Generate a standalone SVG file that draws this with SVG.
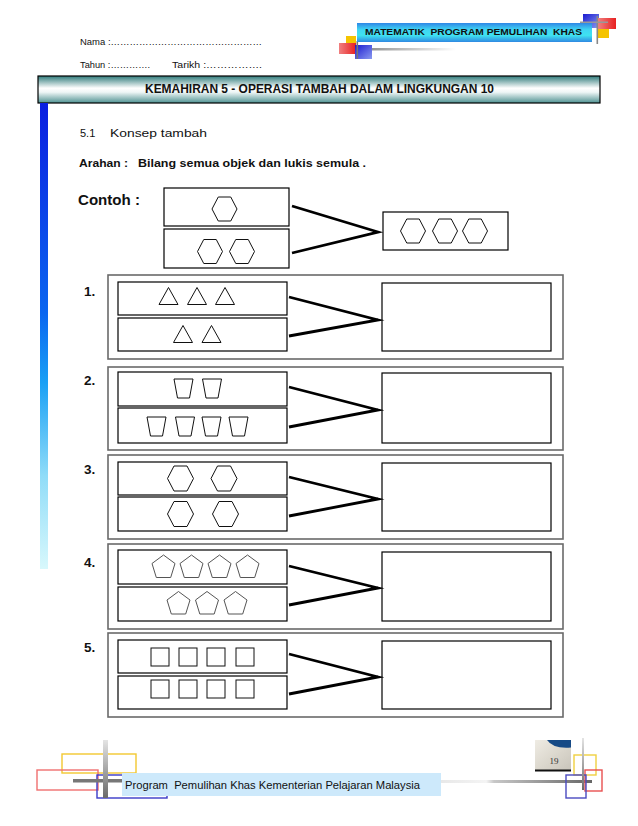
<svg xmlns="http://www.w3.org/2000/svg" xmlns:xlink="http://www.w3.org/1999/xlink" width="638" height="826" viewBox="0 0 638 826">
<style>
.t{font-family:"Liberation Sans",Arial,sans-serif;fill:#111}
.b{font-weight:bold}
.box{fill:#fff;stroke:#000;stroke-width:1.2}
.outer{fill:#fff;stroke:#6a6a6a;stroke-width:1.6}
.shape{fill:none;stroke:#111;stroke-width:1}
.pent{fill:none;stroke:#555;stroke-width:1}
.con{fill:none;stroke:#000;stroke-width:2.8;stroke-linejoin:miter;stroke-miterlimit:20}
.deco{fill:none;stroke-width:1.4}
</style>
<defs>
<linearGradient id="gBanner" x1="0" y1="0" x2="0" y2="1">
<stop offset="0" stop-color="#2f86e6"/><stop offset="0.35" stop-color="#3fd6f3"/><stop offset="0.65" stop-color="#3fe2f0"/><stop offset="1" stop-color="#2f88e2"/>
</linearGradient>
<linearGradient id="gTitle" x1="0" y1="0" x2="0" y2="1">
<stop offset="0" stop-color="#2f7b7b"/><stop offset="0.45" stop-color="#ffffff"/><stop offset="0.6" stop-color="#eef6f6"/><stop offset="1" stop-color="#4f9292"/>
</linearGradient>
<linearGradient id="gBar" x1="0" y1="0" x2="0" y2="1">
<stop offset="0" stop-color="#0a1ee0"/><stop offset="0.45" stop-color="#0a66f0"/><stop offset="0.6" stop-color="#1aa0f5"/><stop offset="0.8" stop-color="#90dcf8"/><stop offset="1" stop-color="#d8f8fc"/>
</linearGradient>
<linearGradient id="gVert" x1="0" y1="0" x2="0" y2="1">
<stop offset="0" stop-color="#e4e4e4"/><stop offset="1" stop-color="#6a6a6a"/>
</linearGradient>
<linearGradient id="gHorz" x1="0" y1="0" x2="1" y2="0">
<stop offset="0" stop-color="#777"/><stop offset="1" stop-color="#777" stop-opacity="0"/>
</linearGradient>
<linearGradient id="gHorzR" x1="0" y1="0" x2="1" y2="0">
<stop offset="0" stop-color="#e8e8e8"/><stop offset="0.3" stop-color="#f4f4f4"/><stop offset="0.35" stop-color="#c8c8c8"/><stop offset="1" stop-color="#666"/>
</linearGradient>
<linearGradient id="gBlueSq" x1="0" y1="0" x2="1" y2="1">
<stop offset="0" stop-color="#1a1ad0"/><stop offset="1" stop-color="#8a9af0"/>
</linearGradient>
<linearGradient id="gRedSq" x1="0" y1="0" x2="1" y2="0">
<stop offset="0" stop-color="#f08080"/><stop offset="1" stop-color="#e82020"/>
</linearGradient>
<linearGradient id="gPage" x1="0" y1="0" x2="1" y2="1">
<stop offset="0" stop-color="#efece4"/><stop offset="0.5" stop-color="#dcd8ce"/><stop offset="1" stop-color="#c8c4ba"/>
</linearGradient>
<polygon id="hex" points="-12.5,0 -6.25,-12 6.25,-12 12.5,0 6.25,12 -6.25,12"/>
<polygon id="hexL" points="-13,0 -6.5,-12.5 6.5,-12.5 13,0 6.5,12.5 -6.5,12.5"/>
<polygon id="tri" points="-9.5,8.5 0,-8.5 9.5,8.5"/>
<polygon id="trap" points="-9.5,-9.5 9.5,-9.5 6,9.5 -6,9.5"/>
<polygon id="pent" points="0,-11.5 11.5,-3 7.2,11 -7.2,11 -11.5,-3"/>
<rect id="sq" x="-9" y="-9" width="18" height="18"/>
</defs>

<rect x="0" y="0" width="638" height="826" fill="#fff"/>

<!-- header -->
<g id="header">
<text class="t" x="80" y="45" font-size="9" fill="#333" textLength="182" lengthAdjust="spacingAndGlyphs">Nama :…………………………………………</text>
<text class="t" x="80" y="68" font-size="9" fill="#333" textLength="70" lengthAdjust="spacingAndGlyphs">Tahun :………….</text>
<text class="t" x="172" y="68" font-size="9" fill="#333" textLength="90" lengthAdjust="spacingAndGlyphs">Tarikh :…………….</text>
</g>

<g id="banner-deco">
<rect x="348" y="48" width="108" height="2.5" fill="url(#gHorz)"/>
<rect x="346" y="36" width="10" height="8" fill="#f5c400"/>
<rect x="339" y="43" width="17" height="11" fill="url(#gRedSq)"/>
<rect x="355" y="45" width="17" height="14" fill="url(#gBlueSq)"/>
<rect x="356.5" y="41" width="1.6" height="18" fill="#777"/>
<rect x="583" y="14" width="16" height="14" fill="url(#gBlueSq)"/>
<rect x="598" y="18" width="18" height="11" fill="url(#gRedSq)"/>
<rect x="597" y="29" width="12" height="9" fill="#f5c400"/>
<rect x="596.5" y="16" width="1.6" height="28" fill="#888"/>
<rect x="580" y="21.5" width="28" height="1.5" fill="#999"/>
</g>

<g id="banner">
<rect x="357" y="23" width="235" height="19" fill="url(#gBanner)"/>
<text class="t b" x="365" y="34.5" font-size="9.2" fill="#1a2350" textLength="217" lengthAdjust="spacingAndGlyphs" style="white-space:pre">MATEMATIK  PROGRAM PEMULIHAN  KHAS</text>
</g>

<g id="title">
<rect x="38" y="76" width="562" height="27" fill="url(#gTitle)" stroke="#000" stroke-width="1.2"/>
<text class="t b" x="145" y="93" font-size="12.5" textLength="349" lengthAdjust="spacingAndGlyphs">KEMAHIRAN 5 - OPERASI TAMBAH DALAM LINGKUNGAN 10</text>
</g>

<rect id="side-bar" x="40" y="103" width="8" height="466" fill="url(#gBar)"/>

<g id="intro">
<text class="t" x="80" y="137" font-size="11" fill="#222">5.1</text>
<text class="t" x="110" y="137" font-size="11" fill="#222" textLength="97" lengthAdjust="spacingAndGlyphs">Konsep tambah</text>
<text class="t b" x="79" y="167" font-size="11" textLength="49" lengthAdjust="spacingAndGlyphs">Arahan :</text>
<text class="t b" x="138" y="167" font-size="11" textLength="228" lengthAdjust="spacingAndGlyphs">Bilang semua objek dan lukis semula .</text>
<text class="t b" x="78" y="205" font-size="15" textLength="62" lengthAdjust="spacingAndGlyphs">Contoh :</text>
</g>

<!-- example -->
<g id="contoh">
<rect class="box" x="164" y="188" width="125" height="38"/>
<rect class="box" x="164" y="229" width="125" height="39"/>
<rect class="box" x="383" y="212" width="125" height="38"/>
<use href="#hex" class="shape" x="224.5" y="209"/>
<use href="#hex" class="shape" x="210" y="251.5"/>
<use href="#hex" class="shape" x="242" y="251.5"/>
<use href="#hex" class="shape" x="413" y="231"/>
<use href="#hex" class="shape" x="445" y="231"/>
<use href="#hex" class="shape" x="475" y="231"/>
</g>

<g id="soalan-1">
<rect class="outer" x="108" y="275" width="455" height="84"/>
<text class="t b" x="84" y="296" font-size="13.5">1.</text>
<rect class="box" x="118" y="282" width="169" height="33"/>
<rect class="box" x="118" y="318" width="169" height="33"/>
<rect class="box" x="382" y="283" width="169" height="68"/>
<use href="#tri" class="shape" x="168.5" y="296"/>
<use href="#tri" class="shape" x="197" y="296"/>
<use href="#tri" class="shape" x="225" y="296"/>
<use href="#tri" class="shape" x="183" y="334"/>
<use href="#tri" class="shape" x="211.5" y="334"/>
</g>

<g id="soalan-2">
<rect class="outer" x="108" y="367" width="455" height="83"/>
<text class="t b" x="84" y="385" font-size="13.5">2.</text>
<rect class="box" x="118" y="372" width="169" height="34"/>
<rect class="box" x="118" y="408" width="169" height="35"/>
<rect class="box" x="382" y="373" width="169" height="70"/>
<use href="#trap" class="shape" x="183.5" y="388.5"/>
<use href="#trap" class="shape" x="212" y="388.5"/>
<use href="#trap" class="shape" x="156.5" y="426.5"/>
<use href="#trap" class="shape" x="185" y="426.5"/>
<use href="#trap" class="shape" x="211.5" y="426.5"/>
<use href="#trap" class="shape" x="238.5" y="426.5"/>
</g>

<g id="soalan-3">
<rect class="outer" x="108" y="455" width="455" height="84"/>
<text class="t b" x="84" y="474" font-size="13.5">3.</text>
<rect class="box" x="118" y="462" width="169" height="33"/>
<rect class="box" x="118" y="497" width="169" height="34"/>
<rect class="box" x="382" y="463" width="169" height="68"/>
<use href="#hexL" class="shape" x="180.5" y="478.5"/>
<use href="#hexL" class="shape" x="224" y="478.5"/>
<use href="#hexL" class="shape" x="180.5" y="514"/>
<use href="#hexL" class="shape" x="225.5" y="514"/>
</g>

<g id="soalan-4">
<rect class="outer" x="108" y="544" width="455" height="85"/>
<text class="t b" x="84" y="567" font-size="13.5">4.</text>
<rect class="box" x="118" y="550" width="169" height="34"/>
<rect class="box" x="118" y="587" width="169" height="34"/>
<rect class="box" x="382" y="552" width="169" height="69"/>
<use href="#pent" class="pent" x="163.5" y="566.5"/>
<use href="#pent" class="pent" x="191.5" y="566.5"/>
<use href="#pent" class="pent" x="219.5" y="566.5"/>
<use href="#pent" class="pent" x="247.5" y="566.5"/>
<use href="#pent" class="pent" x="178.5" y="603"/>
<use href="#pent" class="pent" x="207" y="603"/>
<use href="#pent" class="pent" x="235.5" y="603"/>
</g>

<g id="soalan-5">
<rect class="outer" x="108" y="633" width="455" height="84"/>
<text class="t b" x="84" y="652" font-size="13.5">5.</text>
<rect class="box" x="118" y="640" width="169" height="33"/>
<rect class="box" x="118" y="676" width="169" height="33"/>
<rect class="box" x="382" y="641" width="169" height="68"/>
<use href="#sq" class="shape" x="160" y="657"/>
<use href="#sq" class="shape" x="188" y="657"/>
<use href="#sq" class="shape" x="216" y="657"/>
<use href="#sq" class="shape" x="245" y="657"/>
<use href="#sq" class="shape" x="160" y="689"/>
<use href="#sq" class="shape" x="188" y="689"/>
<use href="#sq" class="shape" x="216" y="689"/>
<use href="#sq" class="shape" x="245" y="689"/>
</g>

<g id="connectors">
<polyline class="con" points="292,206 378,232 292,253"/>
<polyline class="con" points="289,297 378,320 289,336"/>
<polyline class="con" points="289,387 378,410 289,427"/>
<polyline class="con" points="289,477 378,499 289,516"/>
<polyline class="con" points="289,566 378,588 289,605"/>
<polyline class="con" points="289,654 378,677 289,694"/>
</g>

<!-- footer -->
<g id="footer-left">
<rect class="deco" x="62" y="754" width="74" height="19" stroke="#f2c830"/>
<rect class="deco" x="37" y="770" width="61" height="20" stroke="#f07070"/>
<rect class="deco" x="97" y="775" width="70" height="23" stroke="#3a3ac8"/>
<rect x="73" y="779" width="50" height="3.5" fill="#777"/>
<rect x="103" y="740" width="5" height="58" fill="url(#gVert)"/>
</g>
<g id="footer-line">
<rect x="441" y="780" width="151" height="3" fill="url(#gHorzR)"/>
</g>
<g id="footer-box">
<rect x="122" y="773" width="319" height="23" fill="#cde9fb"/>
<text class="t" x="125" y="789" font-size="11" fill="#222" textLength="295" lengthAdjust="spacingAndGlyphs" style="white-space:pre">Program  Pemulihan Khas Kementerian Pelajaran Malaysia</text>
</g>
<g id="footer-right">
<rect class="deco" x="574" y="755" width="22" height="20" stroke="#f0d040"/>
<rect class="deco" x="585" y="770" width="17" height="21" stroke="#e85050"/>
<rect class="deco" x="566" y="775" width="20" height="23" stroke="#4a4ac0"/>
<rect x="582" y="738" width="2" height="52" fill="url(#gVert)"/>
</g>
<g id="page-number">
<rect x="535" y="740" width="36" height="31" fill="url(#gPage)"/>
<path d="M547,740 Q553,749 571,747.5 L571,740 Z" fill="#164a86"/>
<rect x="535" y="769.5" width="36" height="2" fill="#111"/>
<text x="554" y="764" font-family="Liberation Serif,serif" font-size="9" fill="#333" text-anchor="middle">19</text>
</g>
</svg>
